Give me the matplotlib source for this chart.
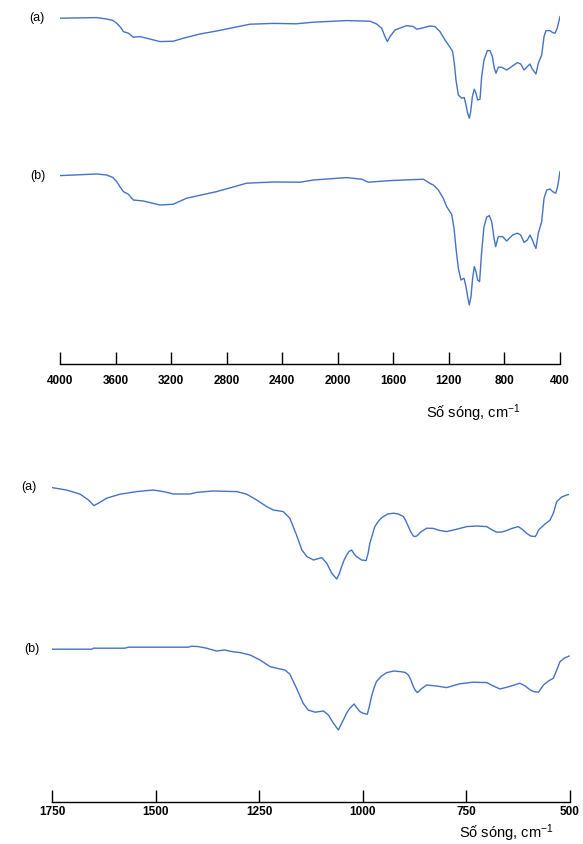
import numpy as np
import matplotlib.pyplot as plt

plt.rcParams['font.family'] = ['Liberation Sans', 'DejaVu Sans']
plt.rcParams['mathtext.fontset'] = 'custom'
plt.rcParams['mathtext.rm'] = 'Liberation Sans'
plt.rcParams['mathtext.default'] = 'regular'

# FTIR spectra, full range (4000-400 cm-1), transmittance in arbitrary units
wn_full_a = [4000, 3736, 3664, 3620, 3592, 3560, 3544, 3508, 3472, 3424, 3376, 3280,
             3184, 3112, 2992, 2872, 2752, 2632, 2464, 2300, 2176, 1936, 1768, 1720,
             1684, 1660, 1643, 1624, 1588, 1504, 1456, 1432, 1396, 1336, 1300, 1264,
             1228, 1192, 1173, 1161, 1149, 1132, 1108, 1089, 1077, 1065, 1053, 1043,
             1031, 1017, 1005, 993, 976, 964, 947, 923, 904, 887, 873, 861, 844, 820,
             784, 748, 707, 683, 659, 635, 616, 599, 573, 556, 532, 515, 501, 472,
             453, 436, 420, 400]
t_full_a = [99.4, 99.7, 99.0, 98.3, 96.9, 94.5, 92.7, 91.9, 89.9, 90.2, 89.4, 87.7,
            87.9, 89.4, 91.5, 93.0, 94.7, 96.4, 96.8, 96.6, 97.4, 98.2, 97.9, 96.5,
            94.4, 90.2, 87.7, 90.2, 93.5, 95.7, 95.2, 93.9, 94.4, 95.5, 95.2, 92.7,
            88.5, 84.9, 82.7, 76.9, 68.5, 61.0, 59.4, 59.7, 56.0, 51.9, 49.4, 52.7,
            60.2, 63.9, 61.9, 58.5, 58.9, 70.2, 78.5, 83.2, 83.2, 80.2, 74.4, 71.9,
            74.9, 74.9, 73.5, 75.2, 77.2, 76.5, 73.5, 75.2, 76.5, 73.9, 71.5, 76.9,
            81.0, 90.2, 93.2, 93.2, 92.2, 91.9, 94.4, 100.2]

wn_full_b = [4000, 3736, 3664, 3620, 3592, 3560, 3544, 3508, 3472, 3400, 3280, 3184,
             3088, 2872, 2656, 2464, 2272, 2176, 1936, 1828, 1780, 1624, 1384, 1336,
             1312, 1276, 1240, 1216, 1180, 1163, 1149, 1132, 1113, 1091, 1077, 1065,
             1053, 1041, 1029, 1017, 1005, 993, 979, 964, 947, 928, 909, 892, 875,
             863, 844, 813, 784, 741, 707, 683, 659, 635, 616, 599, 585, 573, 556,
             532, 515, 496, 472, 453, 431, 417, 400]
t_full_b = [99.4, 100.2, 99.7, 98.5, 96.4, 93.0, 91.4, 90.1, 87.2, 86.7, 84.7, 85.1,
            88.1, 91.4, 95.6, 96.2, 96.1, 97.2, 98.4, 97.6, 96.1, 96.9, 97.6, 95.5,
            94.7, 92.2, 88.0, 83.9, 80.0, 73.1, 63.1, 53.1, 47.2, 48.1, 43.9, 38.9,
            34.7, 38.9, 48.1, 53.9, 51.4, 47.2, 46.4, 61.4, 73.9, 78.6, 79.4, 76.4,
            68.1, 63.9, 68.9, 68.9, 66.7, 69.7, 70.6, 69.7, 66.0, 67.2, 69.7, 67.2,
            64.7, 63.0, 70.6, 76.4, 88.0, 92.2, 92.7, 91.4, 90.6, 93.9, 101.4]

# expanded fingerprint region (1750-500 cm-1)
wn_fp_a = [1750, 1715, 1682, 1662, 1649, 1638, 1618, 1586, 1546, 1506, 1481, 1457,
           1417, 1401, 1361, 1304, 1280, 1256, 1232, 1216, 1192, 1176, 1160, 1147,
           1135, 1119, 1099, 1087, 1075, 1063, 1057, 1051, 1045, 1039, 1033, 1027,
           1021, 1015, 1003, 992, 987, 983, 977, 971, 962, 954, 940, 926, 914, 902,
           896, 890, 884, 878, 874, 870, 860, 846, 830, 815, 798, 775, 749, 725,
           701, 690, 677, 665, 653, 640, 625, 615, 605, 595, 584, 580, 576, 563,
           548, 540, 532, 520, 508, 504]
t_fp_a = [99.7, 98.5, 96.4, 93.5, 90.7, 91.9, 94.4, 96.4, 97.7, 98.5, 97.7, 96.5,
          96.5, 97.3, 98.0, 97.7, 96.4, 93.5, 90.2, 88.5, 87.7, 84.4, 76.0, 68.5,
          65.2, 63.5, 64.7, 61.9, 56.9, 54.0, 56.5, 60.2, 63.5, 66.0, 67.8, 68.5,
          66.5, 65.2, 63.5, 63.2, 67.0, 71.9, 76.0, 80.2, 83.0, 84.7, 86.5, 86.9,
          86.5, 85.2, 83.0, 80.2, 77.5, 75.5, 75.2, 75.5, 77.5, 79.4, 79.3, 78.3,
          77.7, 78.8, 80.2, 80.5, 80.2, 78.8, 77.4, 77.5, 78.2, 79.3, 80.2, 78.8,
          76.9, 75.5, 75.2, 76.5, 78.5, 81.0, 83.5, 87.0, 92.7, 95.0, 96.0, 96.2]

wn_fp_b = [1750, 1654, 1650, 1574, 1566, 1421, 1413, 1397, 1377, 1353, 1333, 1316,
           1296, 1272, 1248, 1224, 1208, 1188, 1176, 1160, 1144, 1132, 1115, 1095,
           1083, 1071, 1059, 1053, 1047, 1039, 1031, 1021, 1014, 1007, 998, 989,
           984, 979, 973, 967, 955, 942, 925, 910, 898, 890, 884, 878, 873, 868,
           858, 846, 822, 798, 766, 734, 701, 685, 669, 645, 621, 608, 596, 586,
           576, 564, 552, 540, 532, 524, 513, 502]
t_fp_b = [99.9, 99.9, 100.4, 100.4, 100.9, 100.9, 101.4, 101.2, 100.4, 99.0, 99.5, 98.7,
          98.2, 97.0, 94.5, 91.2, 90.4, 89.5, 87.4, 80.4, 72.9, 69.5, 68.4, 69.0,
          67.0, 62.9, 59.5, 62.0, 64.5, 68.0, 70.4, 72.5, 70.5, 68.7, 67.8, 67.4,
          71.5, 76.2, 80.5, 83.7, 86.5, 88.2, 89.0, 88.7, 88.3, 87.0, 84.5, 81.2,
          79.2, 78.2, 80.2, 82.0, 81.5, 80.7, 82.6, 83.4, 83.2, 81.5, 80.0, 81.3,
          82.9, 81.5, 79.5, 78.6, 78.4, 82.0, 84.0, 85.4, 89.5, 93.7, 95.5, 96.5]

full_ticks = [4000, 3600, 3200, 2800, 2400, 2000, 1600, 1200, 800, 400]
fp_ticks = [1750, 1500, 1250, 1000, 750, 500]

line_color = '#4472c4'
W, H = 583, 844
fig = plt.figure(figsize=(W / 100, H / 100), dpi=100)


def style_axis(ax, ticks, pad):
    for side in ['top', 'left', 'right']:
        ax.spines[side].set_visible(False)
    ax.spines['bottom'].set_linewidth(1.0)
    ax.set_yticks([])
    ax.set_xticks(ticks)
    ax.set_xticklabels([str(t) for t in ticks], fontweight='bold', fontsize=8.5)
    ax.tick_params(axis='x', direction='in', length=9, width=1.0, pad=pad)
    ax.patch.set_alpha(0)


# full-range spectra
ax1 = fig.add_axes([60 / W, (H - 364) / H, 500 / W, 364 / H])
ax1.plot(wn_full_a, t_full_a, color=line_color, lw=1)
ax1.plot(wn_full_b, np.array(t_full_b) - 78.7, color=line_color, lw=1)
ax1.set_xlim(4000, 400)
ax1.set_ylim(-73.5, 108.5)
style_axis(ax1, full_ticks, 8)
ax1.text(-0.046, 99.4, '(a)', transform=ax1.get_yaxis_transform(), fontsize=9,
         ha='center', va='center')
ax1.text(-0.044, 99.4 - 78.7, '(b)', transform=ax1.get_yaxis_transform(), fontsize=9,
         ha='center', va='center')

# fingerprint region
ax2 = fig.add_axes([52 / W, (H - 802) / H, 518 / W, 342 / H])
ax2.plot(wn_fp_a, t_fp_a, color=line_color, lw=1)
ax2.plot(wn_fp_b, np.array(t_fp_b) - 81, color=line_color, lw=1)
ax2.set_xlim(1750, 500)
ax2.set_ylim(-57.5, 113.5)
style_axis(ax2, fp_ticks, 3)
ax2.text(-0.044, 99.9, '(a)', transform=ax2.get_yaxis_transform(), fontsize=9,
         ha='center', va='center')
ax2.text(-0.039, 99.9 - 81, '(b)', transform=ax2.get_yaxis_transform(), fontsize=9,
         ha='center', va='center')

fig.text(473 / W, 1 - 413 / H, 'Số sóng, cm$^{-1}$', fontsize=10.5,
         ha='center', va='center')
fig.text(506 / W, 1 - 833 / H, 'Số sóng, cm$^{-1}$', fontsize=10.5,
         ha='center', va='center')

fig.savefig('out.png', dpi=100)
